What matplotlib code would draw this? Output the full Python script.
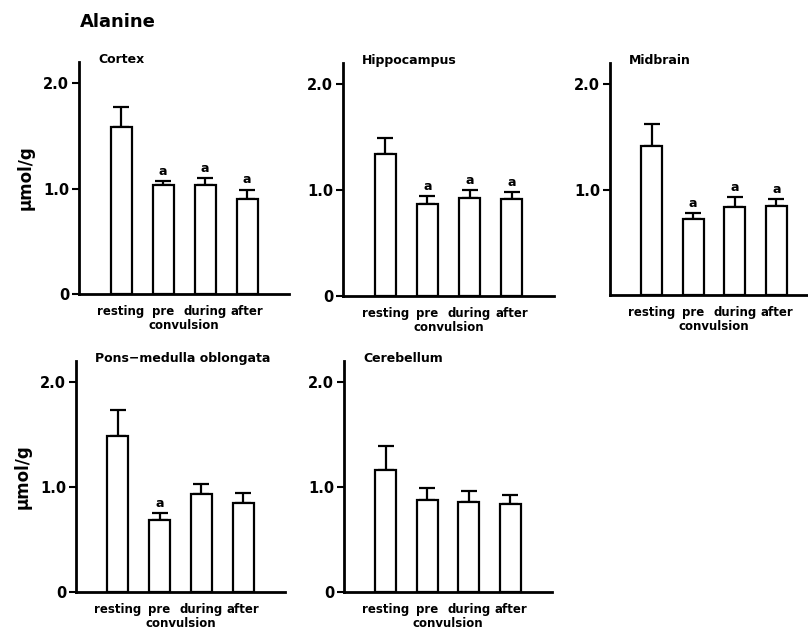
import numpy as np
import matplotlib.pyplot as plt

plt.rcParams['font.family'] = 'DejaVu Sans'
plt.rcParams['font.weight'] = 'bold'

# 组别
groups = ['resting', 'pre', 'during', 'after']
# 各脑区
regions = ['Cortex', 'Hippocampus', 'Midbrain', 'Pons\u2212medulla oblongata', 'Cerebellum']
# 平均值 (µmol/g)
cortex = [1.58, 1.03, 1.03, 0.90]
hippocampus = [1.34, 0.87, 0.93, 0.92]
midbrain = [1.415, 0.72, 0.83, 0.84]
pons = [1.49, 0.69, 0.93, 0.85]
cerebellum = [1.165, 0.88, 0.86, 0.84]
# 误差
cortex_err = [0.19, 0.04, 0.07, 0.09]
hippocampus_err = [0.15, 0.07, 0.07, 0.06]
midbrain_err = [0.205, 0.06, 0.10, 0.07]
pons_err = [0.24, 0.06, 0.10, 0.09]
cerebellum_err = [0.225, 0.11, 0.10, 0.08]
# 显著性标记 a
cortex_sig = [0, 1, 1, 1]
hippocampus_sig = [0, 1, 1, 1]
midbrain_sig = [0, 1, 1, 1]
pons_sig = [0, 1, 0, 0]
cerebellum_sig = [0, 0, 0, 0]

means = [cortex, hippocampus, midbrain, pons, cerebellum]
errs = [cortex_err, hippocampus_err, midbrain_err, pons_err, cerebellum_err]
sigs = [cortex_sig, hippocampus_sig, midbrain_sig, pons_sig, cerebellum_sig]

W, H = 808, 632
# 坐标轴位置 (像素): left, bottom, width, height
boxes = [(79, 294, 210, 232), (343, 296, 211, 233), (610, 295, 208, 232),
         (76, 592, 209, 231), (344, 592, 208, 231)]

fig = plt.figure(figsize=(W / 100, H / 100), dpi=100)
fig.text(80 / W, 1 - 22 / H, 'Alanine', fontsize=13, fontweight='bold', va='center', ha='left')

x = np.arange(len(groups))
for k in range(5):
    l, b, w, h = boxes[k]
    ax = fig.add_axes([l / W, 1 - b / H, w / W, h / H])
    ax.bar(x, means[k], width=0.5, color='white', edgecolor='black', linewidth=1.6, zorder=2)
    ax.errorbar(x, means[k], yerr=[np.zeros(4), errs[k]], fmt='none', ecolor='black',
                elinewidth=1.6, capsize=6, capthick=1.6, zorder=1)
    for i in range(4):
        if sigs[k][i]:
            ax.text(x[i], means[k][i] + errs[k][i] + 0.03, 'a', ha='center', va='bottom',
                    fontsize=9, fontweight='bold')
    ax.set_xlim(-1, 4)
    ax.set_ylim(0, 2.2)
    ax.spines['top'].set_visible(False)
    ax.spines['right'].set_visible(False)
    ax.spines['left'].set_linewidth(2)
    ax.spines['bottom'].set_linewidth(2)
    if k == 2:
        ax.set_yticks([1, 2])
        ax.set_yticklabels(['1.0', '2.0'])
    else:
        ax.set_yticks([0, 1, 2])
        ax.set_yticklabels(['0', '1.0', '2.0'])
    ax.tick_params(axis='y', length=5, width=1.5, pad=2, labelsize=10.5)
    ax.set_xticks(x)
    ax.set_xticklabels(groups)
    ax.tick_params(axis='x', length=0, pad=8, labelsize=8.5)
    ax.text(1.5, -0.135, 'convulsion', transform=ax.get_xaxis_transform(),
            ha='center', va='center', fontsize=8.5, fontweight='bold')
    ax.text(19 / w, 1.01, regions[k], transform=ax.transAxes, ha='left', va='center',
            fontsize=9, fontweight='bold')
    if k in (0, 3):
        ax.set_ylabel('\u00b5mol/g', fontsize=12, fontweight='bold', labelpad=6)

plt.savefig('out.png', dpi=100)
